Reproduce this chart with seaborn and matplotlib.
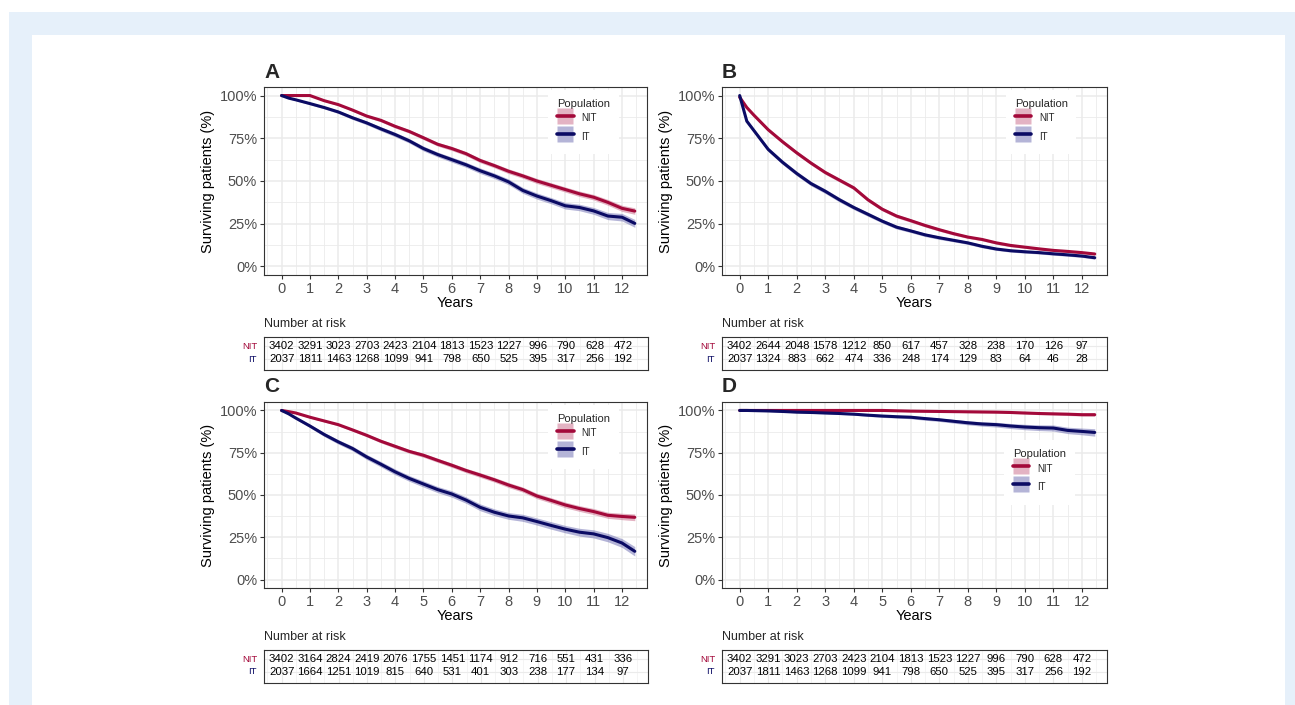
import pandas as pd
import matplotlib.pyplot as plt
from matplotlib.colors import to_rgba
from matplotlib.lines import Line2D
from matplotlib.patches import Rectangle
from matplotlib.ticker import FuncFormatter, MultipleLocator
import matplotlib.transforms as mtransforms
import seaborn as sns

# Estilo geral
sns.set_theme(style="whitegrid")
plt.rcParams["font.family"] = ["Liberation Sans", "DejaVu Sans"]

W, H = 1295, 705

# =============================================
# Dados (sobrevida em %)
# =============================================
anos = [0, 0.25, 0.5, 1, 1.5, 2, 2.5, 3, 3.5, 4, 4.5, 5, 5.5, 6, 6.5,
        7, 7.5, 8, 8.5, 9, 9.5, 10, 10.5, 11, 11.5, 12, 12.45]

a_nit = [100, 100, 100, 100, 97, 94.7, 91.5, 88, 85.5, 82, 79, 75.3, 71.5, 69, 66,
         62, 59, 55.7, 53, 50, 47.5, 45, 42.5, 40.5, 37.5, 34, 32.4]
a_it = [100, 98.5, 97.5, 95.3, 93, 90.4, 87, 84, 80.5, 77.2, 73.5, 69, 65.5, 62.5, 59.5,
        56, 53, 49.5, 44.5, 41.2, 38.5, 35.5, 34.5, 32.5, 29.5, 28.8, 25.2]
b_nit = [99, 93, 88.5, 80, 73, 66.5, 60.5, 55, 50.5, 46, 39, 33.5, 29.5, 26.8, 24,
         21.5, 19.2, 17.2, 15.8, 13.8, 12.3, 11.3, 10.3, 9.4, 8.8, 8.1, 7.3]
b_it = [100, 85, 79.5, 68.5, 61, 54.4, 48.5, 44, 39, 34.5, 30.5, 26.5, 23, 20.8, 18.5,
        16.8, 15.3, 13.8, 11.8, 10.2, 9.2, 8.6, 8.1, 7.4, 6.8, 6.1, 5.1]
c_nit = [100, 99.3, 98.5, 96, 93.8, 91.6, 88.5, 85.3, 81.8, 78.8, 75.8, 73.5, 70.5, 67.6, 64.5,
         61.8, 59, 55.9, 53.2, 49.4, 46.8, 44.1, 42, 40.2, 38, 37.3, 36.8]
c_it = [100, 98, 95.5, 90.8, 85.8, 81.4, 77.5, 72.5, 68.2, 63.7, 59.8, 56.5, 53.2, 50.6, 47,
        42.7, 39.8, 37.6, 36.5, 34.3, 32, 29.8, 28, 27, 24.8, 21.6, 16.7]
d_nit = [100, 100, 100, 100, 100, 100, 100, 100, 100, 100, 100, 100, 99.8, 99.6, 99.5,
         99.4, 99.3, 99.2, 99.1, 99, 98.8, 98.5, 98.2, 98, 97.8, 97.5, 97.5]
d_it = [100, 100, 99.9, 99.7, 99.4, 99, 98.8, 98.5, 98.2, 97.8, 97.2, 96.7, 96.3, 96, 95.2,
        94.5, 93.6, 92.7, 92, 91.6, 90.8, 90.2, 89.8, 89.6, 88.2, 87.6, 87]

# meia-largura do intervalo de confiança (pontos percentuais)
a_nit_ic = [0, 0, 0, 0, 0.5, 0.6, 0.7, 0.8, 0.9, 1, 1, 1.1, 1.1, 1.2, 1.2,
            1.3, 1.3, 1.4, 1.4, 1.5, 1.5, 1.5, 1.6, 1.6, 1.7, 1.8, 1.9]
a_it_ic = [0, 0.4, 0.5, 0.7, 0.8, 0.9, 1, 1.1, 1.2, 1.3, 1.3, 1.4, 1.4, 1.5, 1.5,
           1.6, 1.6, 1.7, 1.7, 1.8, 1.8, 1.9, 1.9, 2, 2.1, 2.2, 2.3]
b_nit_ic = [0.6, 0.8, 0.9, 1, 1.1, 1.1, 1.1, 1.1, 1.1, 1.1, 1.1, 1, 1, 1, 0.9,
            0.9, 0.9, 0.8, 0.8, 0.8, 0.8, 0.7, 0.7, 0.7, 0.7, 0.7, 0.7]
b_it_ic = [0, 1, 1.1, 1.2, 1.3, 1.3, 1.3, 1.3, 1.3, 1.2, 1.2, 1.1, 1.1, 1, 1,
           1, 0.9, 0.9, 0.9, 0.8, 0.8, 0.8, 0.8, 0.8, 0.8, 0.8, 0.8]
c_nit_ic = [0, 0.3, 0.4, 0.5, 0.6, 0.7, 0.8, 0.9, 1, 1.1, 1.1, 1.2, 1.2, 1.3, 1.3,
            1.4, 1.4, 1.5, 1.5, 1.6, 1.6, 1.7, 1.7, 1.8, 1.8, 1.9, 2]
c_it_ic = [0, 0.5, 0.7, 1, 1.2, 1.3, 1.4, 1.5, 1.6, 1.7, 1.7, 1.8, 1.8, 1.9, 1.9,
           2, 2, 2, 2.1, 2.1, 2.2, 2.2, 2.3, 2.4, 2.5, 2.6, 2.8]
d_nit_ic = [0, 0, 0, 0, 0, 0.1, 0.1, 0.1, 0.2, 0.2, 0.2, 0.3, 0.3, 0.3, 0.4,
            0.4, 0.4, 0.5, 0.5, 0.5, 0.6, 0.6, 0.7, 0.7, 0.8, 0.8, 0.9]
d_it_ic = [0, 0, 0.2, 0.3, 0.4, 0.4, 0.5, 0.5, 0.6, 0.6, 0.7, 0.8, 0.8, 0.9, 1,
           1, 1.1, 1.2, 1.3, 1.4, 1.5, 1.6, 1.7, 1.8, 1.9, 2, 2.2]

# Número em risco
anos_risco = list(range(13))
risco_a_nit = [3402, 3291, 3023, 2703, 2423, 2104, 1813, 1523, 1227, 996, 790, 628, 472]
risco_a_it = [2037, 1811, 1463, 1268, 1099, 941, 798, 650, 525, 395, 317, 256, 192]
risco_b_nit = [3402, 2644, 2048, 1578, 1212, 850, 617, 457, 328, 238, 170, 126, 97]
risco_b_it = [2037, 1324, 883, 662, 474, 336, 248, 174, 129, 83, 64, 46, 28]
risco_c_nit = [3402, 3164, 2824, 2419, 2076, 1755, 1451, 1174, 912, 716, 551, 431, 336]
risco_c_it = [2037, 1664, 1251, 1019, 815, 640, 531, 401, 303, 238, 177, 134, 97]
risco_d_nit = risco_a_nit
risco_d_it = risco_a_it

populacoes = ["NIT", "IT"]
CORES = {"NIT": "#A3093A", "IT": "#0B0B64"}
CORES_IC = {"NIT": "#C2577A", "IT": "#5A5AA8"}

XLIM = (-0.62, 12.88)


def px(x0, y0, x1, y1):
    return [x0 / W, 1 - y1 / H, (x1 - x0) / W, (y1 - y0) / H]


def desenha_curvas(ax, nit, it, nit_ic, it_ic, leg_xy):
    df = pd.DataFrame({
        "anos": anos * 2,
        "sobrevida": [v / 100 for v in nit] + [v / 100 for v in it],
        "populacao": ["NIT"] * len(anos) + ["IT"] * len(anos),
    })
    for pop, s, ic in [("NIT", nit, nit_ic), ("IT", it, it_ic)]:
        ax.fill_between(anos, [(v - e) / 100 for v, e in zip(s, ic)],
                        [(v + e) / 100 for v, e in zip(s, ic)],
                        color=CORES_IC[pop], alpha=0.45, lw=0, zorder=2)
    sns.lineplot(data=df, x="anos", y="sobrevida", hue="populacao", palette=CORES,
                 estimator=None, sort=False, linewidth=2.2, legend=False, ax=ax, zorder=3)

    ax.set_facecolor("white")
    ax.set_xlim(*XLIM)
    ax.set_ylim(-0.05, 1.05)
    ax.xaxis.set_major_locator(MultipleLocator(1))
    ax.xaxis.set_minor_locator(MultipleLocator(0.5))
    ax.yaxis.set_major_locator(MultipleLocator(0.25))
    ax.yaxis.set_minor_locator(MultipleLocator(0.125))
    ax.yaxis.set_major_formatter(FuncFormatter(lambda v, _: f"{v * 100:.0f}%"))
    ax.grid(which="major", color="#EBEBEB", lw=1.1)
    ax.grid(which="minor", color="#EBEBEB", lw=0.6)
    for sp in ax.spines.values():
        sp.set_color("#333333")
        sp.set_linewidth(0.8)
    ax.tick_params(which="major", length=3, width=0.8, color="#333333",
                   labelsize=10.5, labelcolor="#4D4D4D", pad=2,
                   bottom=True, left=True)
    ax.tick_params(which="minor", length=0)
    ax.set_xlabel("Years", fontsize=10.5, labelpad=0, color="black")
    ax.set_ylabel("Surviving patients (%)", fontsize=10.5, labelpad=3, color="black")

    # chave da legenda: quadrado da faixa + linha centrada
    handles = [(Line2D([], [], ls="none", marker="s", markersize=11.5,
                       markerfacecolor=to_rgba(CORES_IC[p], 0.45), markeredgecolor="none"),
                Line2D([], [], color=CORES[p], lw=2.6)) for p in populacoes]
    leg = ax.legend(handles, populacoes, title="Population", title_fontsize=8,
                    fontsize=7, loc="upper left", bbox_to_anchor=leg_xy,
                    frameon=True, facecolor="white", edgecolor="none", framealpha=1,
                    fancybox=False, handlelength=1.7, handleheight=2.4,
                    labelspacing=0.1, handletextpad=0.8, borderpad=0.9,
                    borderaxespad=0.3, alignment="left")
    leg.set_zorder(5)


def desenha_tabela(ax, nit, it):
    ax.set_facecolor("white")
    ax.set_xlim(*XLIM)
    ax.set_ylim(0.15, 2.7)
    ax.set_xticks(anos_risco)
    ax.xaxis.set_minor_locator(MultipleLocator(0.5))
    ax.set_yticks([1, 2])
    ax.grid(which="major", color="#EBEBEB", lw=0.8)
    ax.grid(which="minor", color="#F2F2F2", lw=0.5)
    ax.tick_params(which="both", length=0, labelbottom=False, labelleft=False)
    for sp in ax.spines.values():
        sp.set_color("#333333")
        sp.set_linewidth(0.8)
    for x, n1, n2 in zip(anos_risco, nit, it):
        ax.text(x, 2, str(n1), ha="center", va="center", fontsize=8.2, color="black")
        ax.text(x, 1, str(n2), ha="center", va="center", fontsize=8.2, color="black")
    trans = mtransforms.blended_transform_factory(ax.transAxes, ax.transData)
    ax.text(-0.018, 2, "NIT", ha="right", va="center", fontsize=6.8,
            color=CORES["NIT"], transform=trans)
    ax.text(-0.018, 1, "IT", ha="right", va="center", fontsize=6.8,
            color=CORES["IT"], transform=trans)


fig = plt.figure(figsize=(W / 100, H / 100), dpi=100)
fig.patch.set_facecolor("white")
fig.add_artist(Rectangle((9 / W, 0), 1, 1 - 12 / H, transform=fig.transFigure,
                         facecolor="#E6F0FA", edgecolor="none", zorder=0))
fig.add_artist(Rectangle((32 / W, 0), (1285 - 32) / W, 1 - 35 / H, transform=fig.transFigure,
                         facecolor="white", edgecolor="none", zorder=0))

paineis = [
    ("A", (264, 87, 647, 275), (264, 337, 648, 370), a_nit, a_it, a_nit_ic, a_it_ic,
     risco_a_nit, risco_a_it, (0.735, 1.0)),
    ("B", (722, 87, 1107, 275), (722, 337, 1107, 370), b_nit, b_it, b_nit_ic, b_it_ic,
     risco_b_nit, risco_b_it, (0.73, 1.0)),
    ("C", (264, 402, 647, 588), (264, 650, 648, 683), c_nit, c_it, c_nit_ic, c_it_ic,
     risco_c_nit, risco_c_it, (0.735, 1.0)),
    ("D", (722, 402, 1107, 588), (722, 650, 1107, 683), d_nit, d_it, d_nit_ic, d_it_ic,
     risco_d_nit, risco_d_it, (0.725, 0.81)),
]

for letra, caixa, caixa_tab, nit, it, nit_ic, it_ic, r_nit, r_it, leg_xy in paineis:
    ax = fig.add_axes(px(*caixa))
    desenha_curvas(ax, nit, it, nit_ic, it_ic, leg_xy)
    fig.text(caixa[0] / W, 1 - (caixa[1] - 15) / H, letra, fontsize=15,
             fontweight="bold", ha="left", va="center")
    ax_t = fig.add_axes(px(*caixa_tab))
    desenha_tabela(ax_t, r_nit, r_it)
    fig.text(caixa_tab[0] / W, 1 - (caixa_tab[1] - 13) / H, "Number at risk",
             fontsize=9, ha="left", va="center")

plt.savefig("out.png", dpi=100)
plt.close()
